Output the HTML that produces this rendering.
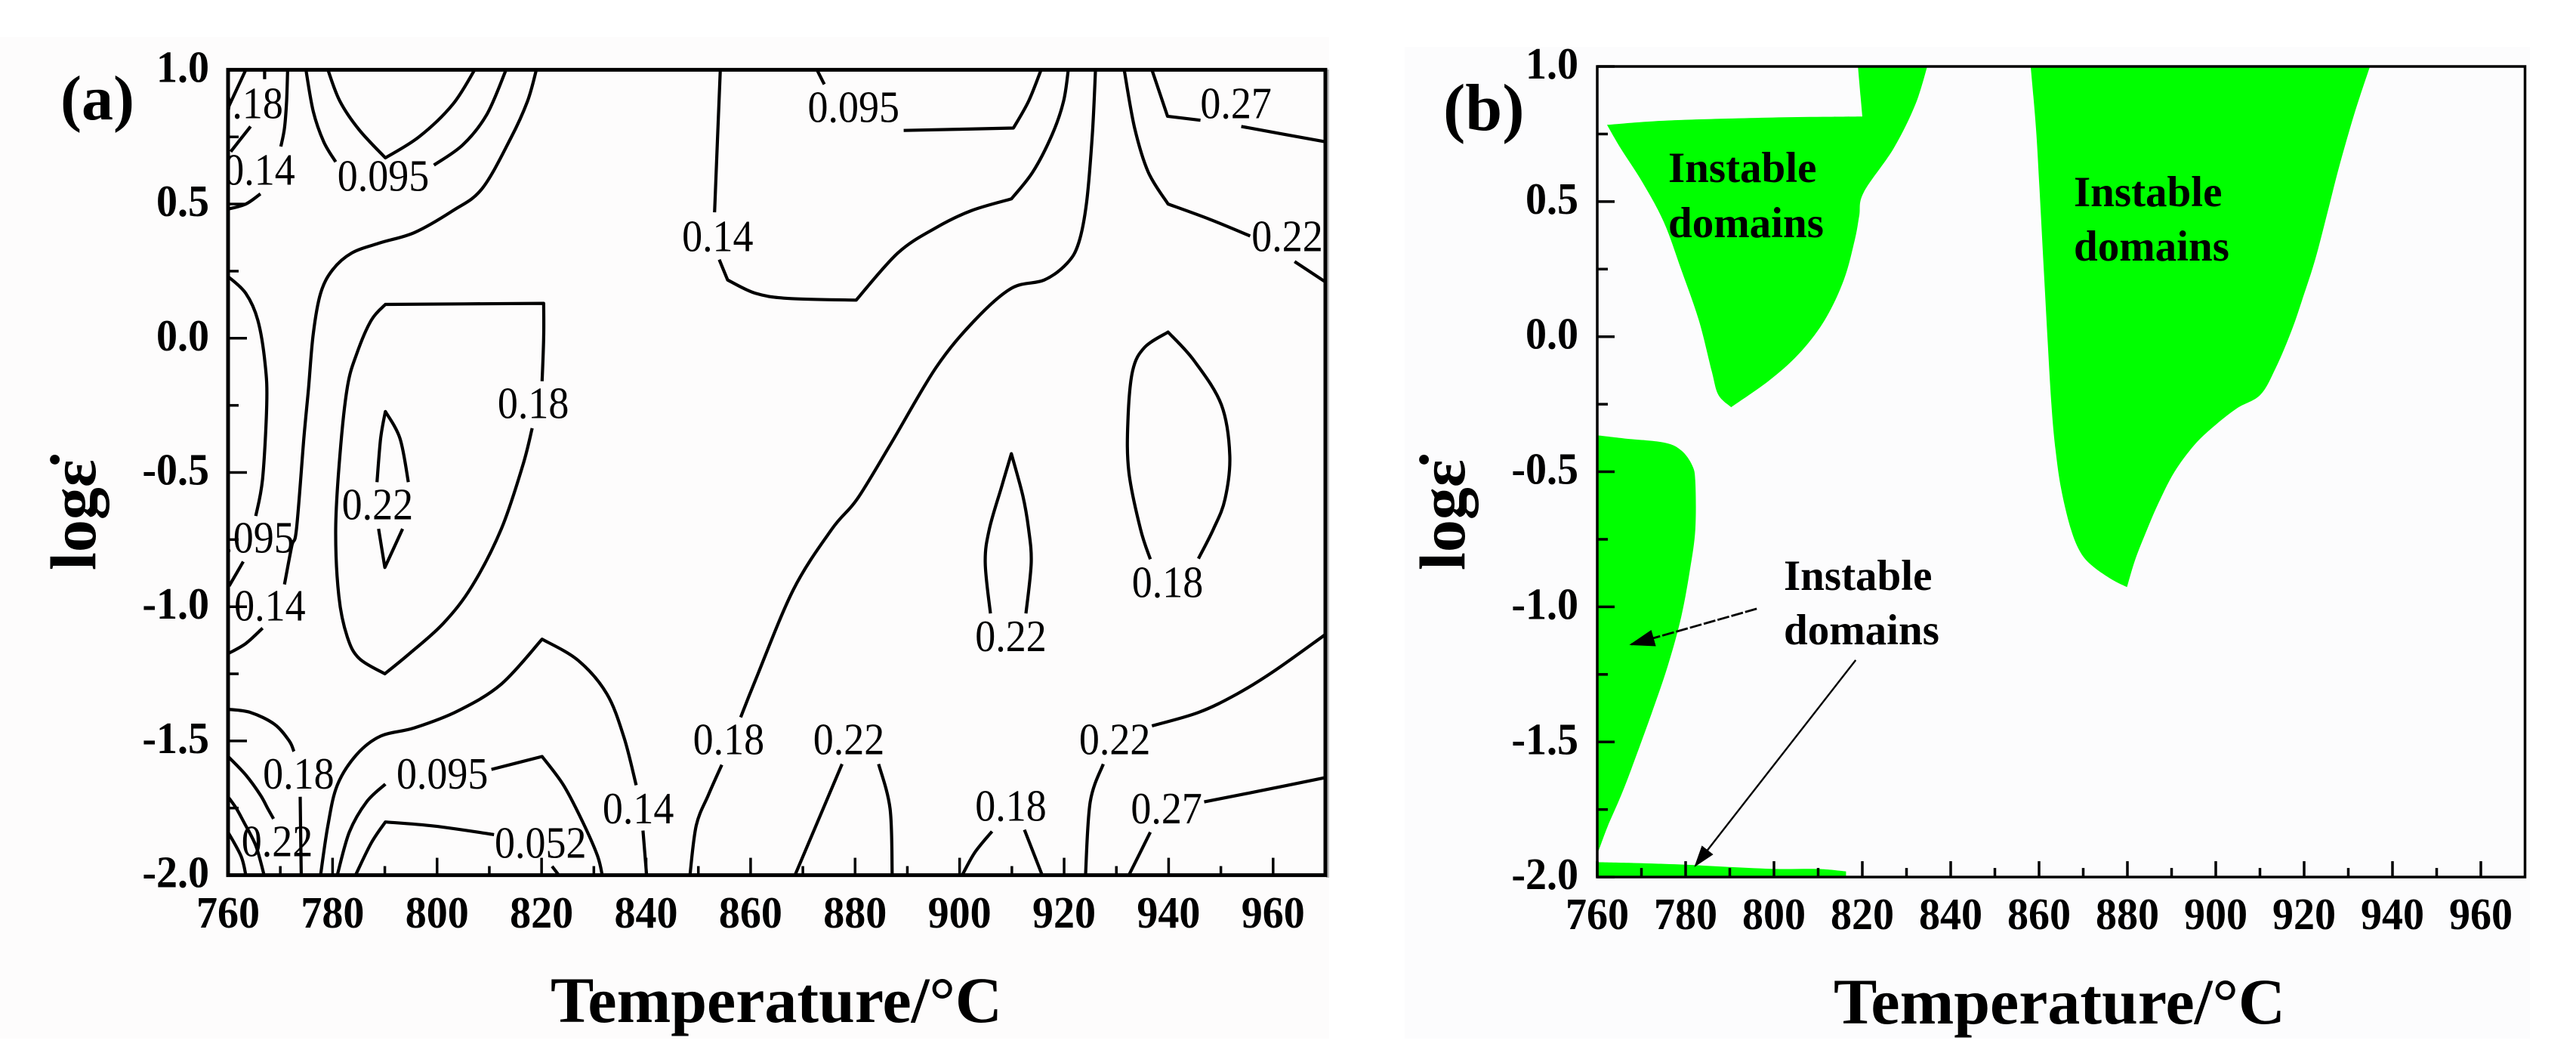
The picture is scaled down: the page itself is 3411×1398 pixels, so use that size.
<!DOCTYPE html>
<html lang="en">
<head>
<meta charset="utf-8">
<title>Processing maps: contour map and instable domains</title>
<style>
html,body{margin:0;padding:0;background:#fff;}
body{width:3411px;height:1398px;overflow:hidden;}
svg{display:block;}
text{font-family:"Liberation Serif",serif;fill:#000;}
.tick{font-weight:bold;font-size:56px;}
.title{font-weight:bold;font-size:86px;}
.clabel{font-size:54px;text-anchor:middle;}
.note{font-weight:bold;font-size:57px;}
</style>
</head>
<body>
<svg id="figure" xmlns="http://www.w3.org/2000/svg" width="3411" height="1398" viewBox="0 0 3411 1398">
  <defs>
    <clipPath id="clip-a"><rect x="302" y="92" width="1453" height="1067"/></clipPath>
    <clipPath id="clip-b"><rect x="2115" y="88" width="1228" height="1073"/></clipPath>
    <marker id="arrow-head" markerWidth="12" markerHeight="8" refX="11" refY="4" orient="auto" markerUnits="strokeWidth">
      <path d="M0 0 L12 4 L0 8 Z" fill="#000"/>
    </marker>
  </defs>
  <rect x="0" y="0" width="3411" height="1398" fill="#fff"/>
  <rect x="0" y="49" width="1760" height="1326" fill="#fdfcfc"/>
  <rect x="1860" y="62" width="1490" height="1313" fill="#fcfcfd"/>
  <rect x="1756" y="92" width="4" height="1070" fill="#bdbdbd"/>

  <g id="panel-a"></g>
  <g id="panel-b"></g>

  <text x="80" y="158" font-size="84" font-weight="bold">(a)</text>
  <text x="1911" y="172" font-size="88" font-weight="bold">(b)</text>

  <text class="title" x="1028" y="1353" text-anchor="middle">Temperature/°C</text>
  <text class="title" x="2727" y="1355" text-anchor="middle">Temperature/°C</text>

  <text class="title" transform="translate(126 755) rotate(-90)">logε̇</text>
  <text class="title" transform="translate(1939 755) rotate(-90)">logε̇</text>

  <text class="note" x="2209" y="241">Instable</text>
  <text class="note" x="2209" y="314">domains</text>
  <text class="note" x="2746" y="273">Instable</text>
  <text class="note" x="2746" y="345">domains</text>
  <text class="note" x="2362" y="781">Instable</text>
  <text class="note" x="2362" y="853">domains</text>
</svg>

<script>
/* ---------- axis data ---------- */
const xMajorTicks = [760,780,800,820,840,860,880,900,920,940,960];
const xMinorTicks = [770,790,810,830,850,870,890,910,930,950];
const yMajorTicks = [1,0.5,0,-0.5,-1,-1.5,-2];
const yMinorTicks = [0.75,0.25,-0.25,-0.75,-1.25,-1.75];
const yTickLabels = ['1.0','0.5','0.0','-0.5','-1.0','-1.5','-2.0'];

/* ---------- panel (a) contour segments: [temperature, log strain rate] ---------- */
const c01 = [[763.4,1],[760,0.858]];
const c02 = [[764.3,0.789],[760.5,0.695]];
const c03 = [[767,1],[767,0.965]];
const c04 = [[771.4,1],[771.2,0.883],[770.8,0.783],[770.1,0.714]];
const c05 = [[774.9,1],[776.3,0.845],[778.3,0.732],[780.6,0.657]];
const c06 = [[799.4,0.645],[804.9,0.72],[809.5,0.833],[813.2,1]];
const c07 = [[779.1,1],[781.4,0.883],[785.1,0.776],[790.1,0.672],[796.6,0.751],[803,0.871],[807.2,1]];
const c09 = [[819,1],[817.3,0.883],[814.1,0.745],[808.6,0.557],[803,0.475],[795.7,0.394],[789.2,0.356],[783.7,0.318],[780,0.255],[777.7,0.167],[776.3,0.016],[775.4,-0.185],[774.5,-0.374],[773.1,-0.71],[772.2,-0.773],[770.8,-0.917]];
const c11 = [[760,0.23],[763.4,0.167],[765.7,0.067],[767.1,-0.097],[767.4,-0.247],[766.6,-0.524],[765.3,-0.662]];
const c12 = [[762.9,-0.832],[760.2,-0.923]];
const c13 = [[760,0.481],[763.4,0.5],[766.2,0.538]];
const c14 = [[760,-1.175],[763.4,-1.137],[766.6,-1.08]];
const c15 = [[820.1,-0.16],[820.4,0.004],[820.4,0.13],[790.1,0.126],[787.4,0.067],[784.6,-0.059],[782.8,-0.185],[781.4,-0.436],[780.6,-0.71],[781.2,-0.961],[782.8,-1.112],[785.1,-1.193],[790,-1.25],[794.7,-1.175],[801.2,-1.062],[806.7,-0.923],[812.3,-0.71],[816.4,-0.474],[818.2,-0.335]];
const c19 = [[788.5,-0.536],[789.2,-0.373],[790.1,-0.273],[792.9,-0.373],[794.5,-0.536]];
const c21 = [[788.8,-0.71],[790,-0.854],[793.4,-0.71]];
const c23 = [[760,-1.382],[764.3,-1.394],[768.9,-1.438],[771.7,-1.5],[772.6,-1.539]];
const c24 = [[760,-1.558],[763.4,-1.627],[766.2,-1.702],[767.6,-1.752],[768.7,-1.79]];
const c25 = [[773.8,-1.708],[774,-2]];
const c26 = [[760,-1.708],[761.6,-1.752],[763,-1.802],[765.3,-1.89],[766.9,-2]];
const c27 = [[760,-1.84],[762.5,-1.93],[763.4,-2]];
const c28 = [[777.7,-2],[779.1,-1.815],[780.9,-1.665],[784.6,-1.551],[789.2,-1.482],[795.7,-1.451],[804,-1.388],[812.3,-1.288],[820.1,-1.121],[827,-1.2],[832.5,-1.325],[835.8,-1.489],[838.1,-1.665]];
const c30 = [[839.4,-1.834],[840.1,-2]];
const c31 = [[780.9,-2],[783.2,-1.84],[786.5,-1.727],[790.1,-1.661]];
const c32 = [[810.4,-1.606],[820.1,-1.558],[824.2,-1.665],[827.9,-1.803],[830.7,-1.928],[831.6,-2]];
const c34 = [[784.4,-2],[787.4,-1.88],[790.1,-1.802],[799.4,-1.817],[810.9,-1.849]];
const c36 = [[822,-1.967],[823.3,-2]];
const c37 = [[848.4,-2],[849.6,-1.815],[851.9,-1.702],[854.5,-1.589]];
const c38 = [[858.1,-1.412],[860.9,-1.275],[868.2,-0.936],[875.6,-0.71],[880.4,-0.599],[886.7,-0.398],[895.5,-0.109],[902.9,0.067],[909.9,0.186],[916.2,0.217],[920.6,0.28],[922.8,0.356],[924.3,0.506],[925.4,0.758],[926,1]];
const c39 = [[854.2,1],[853.1,0.469]];
const c40 = [[854,0.293],[855.6,0.217],[861,0.167],[867.5,0.148],[880.2,0.142],[888.2,0.318],[895.5,0.412],[902.2,0.475],[909.9,0.519],[914,0.619],[917.7,0.758],[919.9,0.883],[920.8,1]];
const c43 = [[872.7,1],[874.1,0.946]];
const c44 = [[889.3,0.774],[910.3,0.783],[913.2,0.883],[915.6,1]];
const c46 = [[931.5,1],[933.5,0.783],[936.1,0.619],[939.9,0.5],[947.9,0.443],[955.6,0.381]];
const c48 = [[964.1,0.286],[969.9,0.211]];
const c49 = [[936.8,1],[939.8,0.827],[946.1,0.812]];
const c51 = [[953.9,0.789],[969.9,0.732]];
const c52 = [[936.5,-0.823],[934.6,-0.71],[932.4,-0.499],[932.2,-0.31],[933.1,-0.122],[935.4,-0.034],[939.9,0.023],[944.9,-0.084],[950.1,-0.248],[951.7,-0.436],[950.8,-0.599],[948.6,-0.71],[945.7,-0.821]];
const c54 = [[905.9,-1.025],[904.9,-0.836],[905.7,-0.71],[908.1,-0.549],[909.9,-0.43],[912.1,-0.587],[913.2,-0.71],[913.7,-0.836],[912.7,-1.025]];
const c56 = [[936.8,-1.444],[945.7,-1.394],[953.1,-1.325],[960.4,-1.237],[969.9,-1.105]];
const c57 = [[946.8,-1.727],[956.7,-1.689],[969.9,-1.637]];
const c58 = [[936.5,-1.84],[932.4,-2]];
const c59 = [[927.5,-1.586],[925,-1.727],[924.1,-2]];
const c60 = [[906.2,-1.837],[902.9,-1.916],[900.5,-2]];
const c61 = [[912.4,-1.831],[915.8,-2]];
const c62 = [[877.5,-1.586],[868.5,-2]];
const c63 = [[884.5,-1.586],[886.7,-1.753],[887.1,-2]];
const contourSegments = [c01,c02,c03,c04,c05,c06,c07,c09,c11,c12,c13,c14,c15,c19,c21,c23,c24,c25,c26,c27,c28,c30,c31,c32,c34,c36,c37,c38,c39,c40,c43,c44,c46,c48,c49,c51,c52,c54,c56,c57,c58,c59,c60,c61,c62,c63];

/* ---------- panel (a) contour labels ---------- */
const contourLabelText = ['0.18','0.14','0.095','0.14','0.18','0.22','0.095','0.14','0.18','0.095','0.14','0.18','0.22','0.052','0.22','0.22','0.18','0.27','0.22','0.18','0.095','0.27','0.22'];
const contourLabelT = [763.7,766,789.7,853.7,818.4,788.6,763.9,768,773.5,801,838.5,855.8,769.4,819.8,878.8,929.7,909.8,939.6,909.8,939.8,879.7,952.9,962.7];
const contourLabelE = [0.82,0.572,0.55,0.324,-0.298,-0.675,-0.798,-1.052,-1.677,-1.677,-1.807,-1.549,-1.929,-1.935,-1.549,-1.549,-1.797,-1.807,-1.165,-0.964,0.805,0.82,0.324];

/* ---------- panel (b) instable domains: [temperature, log strain rate] ---------- */
const domainUpperLeft = [[762.2,0.784],[776.1,0.8],[799.6,0.811],[820,0.815],[819,1],[834.7,1],[832,0.859],[827.1,0.697],[820.3,0.534],[819.3,0.447],[818.3,0.359],[815.8,0.209],[811.4,0.059],[805.5,-0.066],[798.7,-0.165],[790.3,-0.261],[787.4,-0.215],[785.9,-0.127],[783,0.06],[779,0.248],[775.1,0.423],[770.2,0.572],[765.3,0.697]];
const domainUpperRight = [[858.1,1],[934.9,1],[931.3,0.821],[927.8,0.621],[925.1,0.447],[922.5,0.285],[919.8,0.148],[917.2,0.024],[913.6,-0.115],[910.1,-0.215],[904.8,-0.265],[899.5,-0.333],[895.1,-0.402],[890.6,-0.502],[887.1,-0.614],[884.5,-0.712],[881.8,-0.824],[879.9,-0.927],[876.5,-0.899],[872.1,-0.849],[869.4,-0.799],[867.2,-0.712],[865,-0.564],[863.7,-0.414],[862.8,-0.252],[861.9,-0.002],[861,0.272],[860.1,0.547],[859.3,0.772]];
const domainLeft = [[760,-0.365],[766.3,-0.377],[775.1,-0.392],[779,-0.421],[781.5,-0.477],[782.2,-0.539],[782.2,-0.712],[781,-0.862],[779,-1.037],[776.1,-1.211],[772.2,-1.399],[766.3,-1.661],[762.4,-1.811],[760.4,-1.898],[760,-1.91]];
const domainBottom = [[760,-1.945],[768.2,-1.948],[779.5,-1.954],[790.3,-1.963],[800.6,-1.97],[810,-1.97],[816.3,-1.979],[816.3,-2],[760,-2]];
const domains = [domainUpperLeft,domainUpperRight,domainLeft,domainBottom];

/* ---------- annotation arrows in panel (b): [T0,e0,T1,e1] ---------- */
const arrowToLeftDomain = [796.1,-1.007,767.7,-1.139];
const arrowToBottomDomain = [818.5,-1.197,782.2,-1.958];

/* ---------- axis functions ---------- */
const xA = t => 302 + (t - 760) * 6.919;
const yA = e => 92.4 + (1 - e) * 355.4;
const xB = t => 2115 + (t - 760) * 5.85;
const yB = e => 88 + (1 - e) * 357.7;

const NS = 'http://www.w3.org/2000/svg';
function make(tag, parent, attrs) {
  const el = document.createElementNS(NS, tag);
  for (const k in attrs) el.setAttribute(k, attrs[k]);
  parent.appendChild(el);
  return el;
}
/* Catmull-Rom path; vertices that turn sharply are kept as real corners */
function isCorner(a, b, c) {
  const v1 = Math.atan2(b[1] - a[1], b[0] - a[0]);
  const v2 = Math.atan2(c[1] - b[1], c[0] - b[0]);
  let d = Math.abs(v2 - v1);
  if (d > Math.PI) d = 2 * Math.PI - d;
  return d > 0.6;
}
function smoothPath(pts, closed) {
  const n = pts.length;
  const at = i => closed ? pts[(i + n) % n] : pts[Math.min(Math.max(i, 0), n - 1)];
  const corner = i => {
    if (!closed && (i <= 0 || i >= n - 1)) return true;
    return isCorner(at(i - 1), at(i), at(i + 1));
  };
  let d = 'M' + pts[0][0].toFixed(1) + ' ' + pts[0][1].toFixed(1);
  const last = closed ? n : n - 1;
  for (let i = 0; i < last; i++) {
    const p1 = at(i), p2 = at(i + 1);
    const p0 = corner(i) ? p1 : at(i - 1);
    const p3 = corner(i + 1) ? p2 : at(i + 2);
    const k = 1 / 6;
    const c1x = p1[0] + (p2[0] - p0[0]) * k, c1y = p1[1] + (p2[1] - p0[1]) * k;
    const c2x = p2[0] - (p3[0] - p1[0]) * k, c2y = p2[1] - (p3[1] - p1[1]) * k;
    d += 'C' + c1x.toFixed(1) + ' ' + c1y.toFixed(1) + ' ' + c2x.toFixed(1) + ' ' + c2y.toFixed(1) + ' ' + p2[0].toFixed(1) + ' ' + p2[1].toFixed(1);
  }
  return d + (closed ? 'Z' : '');
}

function drawAxes(parent, prefix, fx, fy, xLabelBase, yLabelRight, frameW, opts) {
  const x0 = fx(760), x1 = fx(970), y0 = fy(1), y1 = fy(-2);
  xMajorTicks.forEach(v => {
    const tick = make('line', parent, {x1: fx(v), x2: fx(v), y1: y1, y2: y1 - opts.xMajor, stroke: '#000', 'stroke-width': 3.5});
    
    
    const label = make('text', parent, {transform: 'translate(' + fx(v) + ' ' + xLabelBase + ') scale(1 1.06)', 'text-anchor': 'middle', class: 'tick'});
    label.textContent = String(v);
    
    
  });
  xMinorTicks.forEach(v => {
    const tick = make('line', parent, {x1: fx(v), x2: fx(v), y1: y1, y2: y1 - opts.xMinor, stroke: '#000', 'stroke-width': 3.5});
    
    
  });
  yMajorTicks.forEach((v, i) => {
    const tick = make('line', parent, {x1: x0, x2: x0 + opts.yMajor, y1: fy(v), y2: fy(v), stroke: '#000', 'stroke-width': 3.5});
    
    
    const label = make('text', parent, {transform: 'translate(' + yLabelRight + ' ' + (fy(v) + 16) + ') scale(1 1.06)', 'text-anchor': 'end', class: 'tick'});
    label.textContent = yTickLabels[i];
    
    
  });
  yMinorTicks.forEach(v => {
    const tick = make('line', parent, {x1: x0, x2: x0 + opts.yMinor, y1: fy(v), y2: fy(v), stroke: '#000', 'stroke-width': 3.5});
    
    
  });
  const frame = make('rect', parent, {x: x0, y: y0, width: x1 - x0, height: y1 - y0, fill: 'none', stroke: '#000', 'stroke-width': frameW});
  
  
}

/* ---------- panel (a) ---------- */
const panelA = document.getElementById('panel-a');
const contourGroup = make('g', panelA, {'clip-path': 'url(#clip-a)'});


contourSegments.forEach(seg => {
  const pts = seg.map(p => [xA(p[0]), yA(p[1])]);
  const path = make('path', contourGroup, {d: smoothPath(pts, false), fill: 'none', stroke: '#000', 'stroke-width': 4.2, 'stroke-linecap': 'butt', 'stroke-linejoin': 'round'});
  
  
});
contourLabelText.forEach((txt, i) => {
  const t = make('text', contourGroup, {transform: 'translate(' + xA(contourLabelT[i]) + ' ' + yA(contourLabelE[i]) + ') scale(1 1.1)', class: 'clabel'});
  t.textContent = txt;
  
  
});
drawAxes(panelA, 'panel-a', xA, yA, 1228, 277, 5, {xMajor: 23, xMinor: 12, yMajor: 25, yMinor: 14});

/* ---------- panel (b) ---------- */
const panelB = document.getElementById('panel-b');
const domainGroup = make('g', panelB, {'clip-path': 'url(#clip-b)'});


domains.forEach(dom => {
  const pts = dom.map(p => [xB(p[0]), yB(p[1])]);
  const shape = make('path', domainGroup, {d: smoothPath(pts, true), fill: '#00ff00'});
  
  
});
drawAxes(panelB, 'panel-b', xB, yB, 1230, 2090, 3.5, {xMajor: 21, xMinor: 12, yMajor: 23, yMinor: 14});

const arrowLeft = make('line', panelB, {x1: xB(arrowToLeftDomain[0]), y1: yB(arrowToLeftDomain[1]), x2: xB(arrowToLeftDomain[2]), y2: yB(arrowToLeftDomain[3]), stroke: '#000', 'stroke-width': 2.8, 'stroke-dasharray': '16 3', 'marker-end': 'url(#arrow-head)'});


const arrowBottom = make('line', panelB, {x1: xB(arrowToBottomDomain[0]), y1: yB(arrowToBottomDomain[1]), x2: xB(arrowToBottomDomain[2]), y2: yB(arrowToBottomDomain[3]), stroke: '#000', 'stroke-width': 2.4, 'marker-end': 'url(#arrow-head)'});


</script>
</body>
</html>
